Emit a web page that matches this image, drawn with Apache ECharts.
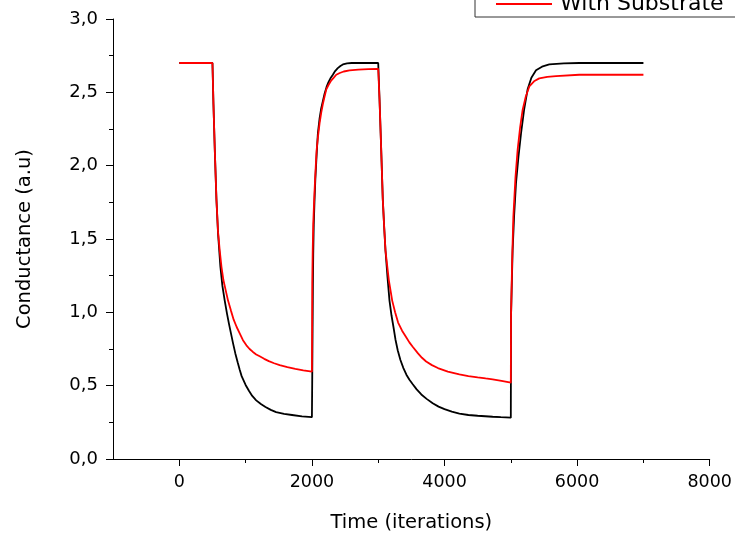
<!DOCTYPE html>
<html>
<head>
<meta charset="utf-8">
<script src="https://cdn.jsdelivr.net/npm/echarts@6/dist/echarts.min.js"></script>
<style>
html, body { margin: 0; padding: 0; background: #fff; }
#main { width: 735px; height: 538px; }
</style>
</head>
<body>
<div id="main"></div>
<script>
var seriesNames = ['Without Substrate', 'With Substrate'];

// black curve (iterations, conductance)
var timeBlack = [0, 500, 515, 535, 560, 584, 620, 650, 685, 720, 750, 780, 810, 845, 880, 910, 940, 1000, 1050, 1100, 1160, 1230, 1300, 1380, 1460, 1580, 1700, 1850, 2000,
  2004, 2008, 2012, 2015, 2020, 2028, 2040, 2052, 2065, 2078, 2090, 2115, 2140, 2165, 2191, 2220, 2250, 2285, 2316, 2350, 2390, 2430, 2467, 2530, 2600, 3000,
  3020, 3045, 3069, 3090, 3110, 3140, 3170, 3200, 3230, 3260, 3295, 3335, 3380, 3425, 3471, 3521, 3580, 3650, 3730, 3822, 3910, 4000, 4110, 4224, 4360, 4500, 4726, 4850, 5000,
  5003, 5015, 5027, 5050, 5078, 5115, 5154, 5200, 5253, 5310, 5380, 5470, 5580, 5800, 6032, 7000];
var condBlack = [2.70, 2.70, 2.42, 2.11, 1.77, 1.54, 1.31, 1.18, 1.08, 0.99, 0.92, 0.855, 0.79, 0.72, 0.66, 0.61, 0.565, 0.505, 0.465, 0.43, 0.40, 0.375, 0.355, 0.335, 0.32, 0.308, 0.30, 0.29, 0.285,
  0.50, 0.75, 1.00, 1.20, 1.40, 1.60, 1.77, 1.91, 2.02, 2.13, 2.22, 2.32, 2.39, 2.44, 2.49, 2.535, 2.57, 2.60, 2.62, 2.645, 2.665, 2.68, 2.69, 2.697, 2.70, 2.70,
  2.45, 2.11, 1.77, 1.58, 1.42, 1.24, 1.08, 0.98, 0.90, 0.815, 0.74, 0.675, 0.62, 0.575, 0.54, 0.51, 0.475, 0.44, 0.41, 0.38, 0.357, 0.34, 0.323, 0.31, 0.30, 0.295, 0.288, 0.285, 0.282,
  0.97, 1.20, 1.42, 1.66, 1.88, 2.06, 2.22, 2.38, 2.52, 2.60, 2.65, 2.675, 2.69, 2.697, 2.70, 2.70];

// red curve (iterations, conductance)
var timeRed = [0, 500, 515, 535, 560, 584, 610, 636, 665, 700, 735, 780, 820, 865, 911, 960, 1012, 1060, 1110, 1160, 1212, 1280, 1350, 1430, 1514, 1630, 1750, 1870, 2000,
  2003, 2005, 2012, 2020, 2030, 2040, 2055, 2070, 2092, 2116, 2140, 2165, 2190, 2217, 2250, 2290, 2330, 2367, 2420, 2480, 2568, 2700, 2850, 3000,
  3020, 3045, 3069, 3090, 3110, 3160, 3211, 3255, 3300, 3360, 3422, 3470, 3520, 3600, 3660, 3723, 3810, 3900, 4050, 4224, 4360, 4500, 4620, 4726, 4860, 5000,
  5003, 5020, 5038, 5070, 5103, 5140, 5178, 5225, 5279, 5350, 5429, 5550, 5681, 6032, 7000];
var condRed = [2.70, 2.70, 2.42, 2.11, 1.77, 1.55, 1.42, 1.31, 1.22, 1.15, 1.08, 1.01, 0.95, 0.90, 0.857, 0.81, 0.775, 0.75, 0.73, 0.713, 0.70, 0.683, 0.667, 0.653, 0.64, 0.627, 0.615, 0.605, 0.595,
  0.90, 1.20, 1.42, 1.60, 1.72, 1.83, 1.97, 2.10, 2.20, 2.29, 2.36, 2.42, 2.47, 2.52, 2.55, 2.58, 2.60, 2.62, 2.632, 2.642, 2.65, 2.655, 2.658, 2.66,
  2.45, 2.11, 1.77, 1.58, 1.42, 1.22, 1.08, 1.00, 0.93, 0.875, 0.83, 0.795, 0.765, 0.72, 0.69, 0.665, 0.64, 0.62, 0.596, 0.577, 0.565, 0.556, 0.549, 0.543, 0.532, 0.52,
  0.97, 1.35, 1.65, 1.92, 2.11, 2.26, 2.38, 2.47, 2.54, 2.575, 2.595, 2.605, 2.61, 2.62, 2.62];

var xMajorTicks = [0, 2000, 4000, 6000, 8000];
var xMinorTicks = [1000, 3000, 5000, 7000];

function pairs(xs, ys) {
  var out = [];
  for (var i = 0; i < xs.length; i++) out.push([xs[i], ys[i]]);
  return out;
}

var font = '"DejaVu Sans", sans-serif';
var myChart = echarts.init(document.getElementById('main'));

option = {
  backgroundColor: '#fff',
  animation: false,
  grid: { left: 113, right: 24, top: 19, bottom: 79 },
  legend: {
    orient: 'vertical',
    left: 475,
    top: -40,
    padding: [3, 40, 2, 21],
    itemGap: 8,
    itemWidth: 56,
    itemHeight: 2,
    icon: 'rect',
    borderColor: '#333',
    borderWidth: 1,
    borderRadius: 0,
    textStyle: { fontFamily: font, fontSize: 22, color: '#000', padding: [0, 0, 0, 3] },
    data: seriesNames
  },
  xAxis: [
    {
      type: 'value',
      min: -1000,
      max: 8000,
      name: 'Time (iterations)',
      nameLocation: 'middle',
      nameGap: 54,
      nameTextStyle: { fontFamily: font, fontSize: 19.5, color: '#000' },
      axisLine: { onZero: false, lineStyle: { color: '#000', width: 1 } },
      axisTick: { customValues: xMajorTicks, length: 7, lineStyle: { color: '#000' } },
      axisLabel: {
        customValues: xMajorTicks, fontFamily: font, fontSize: 17.5, color: '#000', margin: 14,
        formatter: function (v) { return String(v); }
      },
      splitLine: { show: false }
    },
    {
      type: 'value',
      min: -1000,
      max: 8000,
      position: 'bottom',
      axisLine: { show: false, onZero: false },
      axisTick: { customValues: xMinorTicks, length: 4, lineStyle: { color: '#000' } },
      axisLabel: { show: false },
      splitLine: { show: false }
    }
  ],
  yAxis: {
    type: 'value',
    min: 0,
    max: 3,
    interval: 0.5,
    name: 'Conductance (a.u)',
    nameLocation: 'middle',
    nameGap: 78,
    nameTextStyle: { fontFamily: font, fontSize: 19.5, color: '#000' },
    axisLine: { show: true, onZero: false, lineStyle: { color: '#000', width: 1 } },
    axisTick: { show: true, length: 7, lineStyle: { color: '#000' } },
    minorTick: { show: true, splitNumber: 2, length: 4, lineStyle: { color: '#000' } },
    axisLabel: {
      fontFamily: font, fontSize: 18, color: '#000', margin: 15,
      formatter: function (v) { return v.toFixed(1).replace('.', ','); }
    },
    splitLine: { show: false }
  },
  series: [
    {
      name: seriesNames[0],
      type: 'line',
      symbol: 'none',
      color: '#000',
      lineStyle: { color: '#000', width: 1.8 },
      data: pairs(timeBlack, condBlack)
    },
    {
      name: seriesNames[1],
      type: 'line',
      symbol: 'none',
      color: '#ff0000',
      lineStyle: { color: '#ff0000', width: 1.8 },
      data: pairs(timeRed, condRed)
    }
  ]
};

myChart.setOption(option);
</script>
</body>
</html>
